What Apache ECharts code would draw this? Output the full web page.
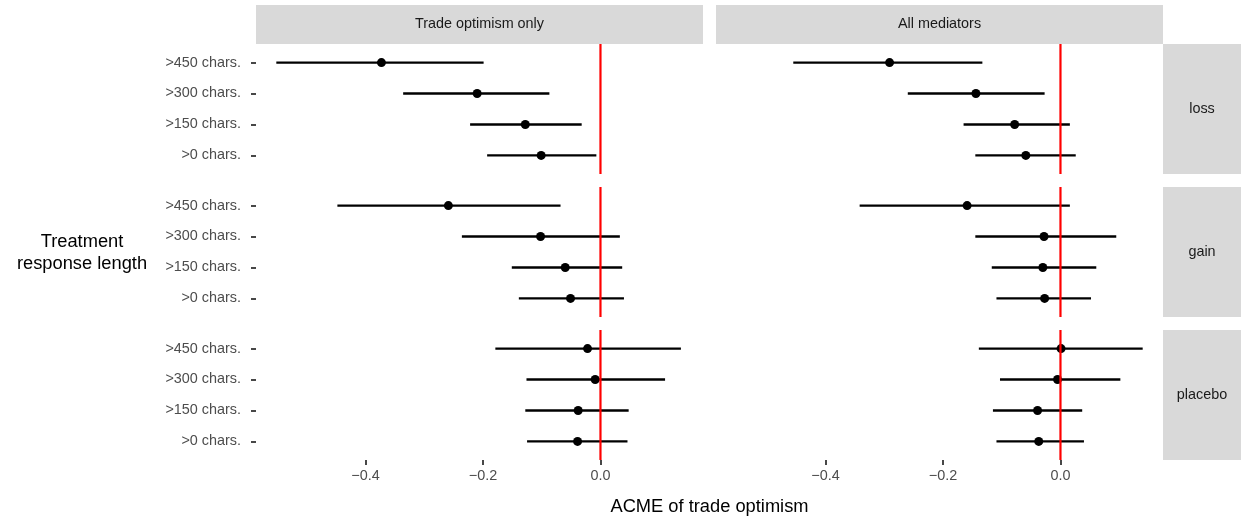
<!DOCTYPE html>
<html>
<head>
<meta charset="utf-8">
<title>ACME of trade optimism</title>
<script src="https://cdn.jsdelivr.net/npm/echarts@6/dist/echarts.min.js"></script>
<style>
  html, body { margin: 0; padding: 0; background: #fff; }
  #chart { width: 1241px; height: 519px; }
</style>
</head>
<body>
<div id="chart"></div>
<script>
// Response-length subsets, bottom to top
const lengthCats = ['>0 chars.', '>150 chars.', '>300 chars.', '>450 chars.'];
const modelNames = ['Trade optimism only', 'All mediators'];
const treatmentNames = ['loss', 'gain', 'placebo'];
const xTicks = [-0.4, -0.2, 0.0];
const zeroLine = [0];

// Trade optimism only
const optLossEst = [-0.101, -0.128, -0.210, -0.373];
const optLossLo  = [-0.193, -0.222, -0.336, -0.552];
const optLossHi  = [-0.007, -0.032, -0.087, -0.199];

const optGainEst = [-0.051, -0.060, -0.102, -0.259];
const optGainLo  = [-0.139, -0.151, -0.236, -0.448];
const optGainHi  = [0.040, 0.037, 0.033, -0.068];

const optPlaceboEst = [-0.039, -0.038, -0.009, -0.022];
const optPlaceboLo  = [-0.125, -0.128, -0.126, -0.179];
const optPlaceboHi  = [0.046, 0.048, 0.110, 0.137];

// All mediators
const allLossEst = [-0.059, -0.078, -0.144, -0.291];
const allLossLo  = [-0.145, -0.165, -0.260, -0.455];
const allLossHi  = [0.026, 0.016, -0.027, -0.133];

const allGainEst = [-0.027, -0.030, -0.028, -0.159];
const allGainLo  = [-0.109, -0.117, -0.145, -0.342];
const allGainHi  = [0.052, 0.061, 0.095, 0.016];

const allPlaceboEst = [-0.037, -0.039, -0.005, 0.001];
const allPlaceboLo  = [-0.109, -0.115, -0.103, -0.139];
const allPlaceboHi  = [0.040, 0.037, 0.102, 0.140];

// panels[row][col]
const panels = [
  [{est: optLossEst, lo: optLossLo, hi: optLossHi}, {est: allLossEst, lo: allLossLo, hi: allLossHi}],
  [{est: optGainEst, lo: optGainLo, hi: optGainHi}, {est: allGainEst, lo: allGainLo, hi: allGainHi}],
  [{est: optPlaceboEst, lo: optPlaceboLo, hi: optPlaceboHi}, {est: allPlaceboEst, lo: allPlaceboLo, hi: allPlaceboHi}]
];

// shared x scale with 5% padding on both sides of the data range
const allLo = [].concat(...panels.map(r => r.map(p => p.lo))).flat();
const allHi = [].concat(...panels.map(r => r.map(p => p.hi))).flat();
const dMin = Math.min(...allLo), dMax = Math.max(...allHi);
const pad = (dMax - dMin) * 0.05;
const xMin = dMin - pad, xMax = dMax + pad;
// discrete y scale: 0.6 units of padding around positions 1..4
const yMin = 0.4, yMax = lengthCats.length + 0.6;
const yPos = lengthCats.map((_, i) => i + 1);

// layout
const FONT = '"Liberation Sans", Arial, Helvetica, sans-serif';
const colLeft = [256, 716];
const rowTop = [44, 187, 330];
const panelW = 447, panelH = 130;
const stripTop = 5, stripH = 39;
const rowStripLeft = 1163, rowStripW = 78;

const fmtTick = v => (v < 0 ? '\u2212' : '') + Math.abs(v).toFixed(1);

const grid = [], xAxis = [], yAxis = [], series = [], graphic = [];

panels.forEach((row, r) => {
  row.forEach((p, c) => {
    const gi = grid.length;
    grid.push({left: colLeft[c], top: rowTop[r], width: panelW, height: panelH});
    const bottomRow = r === panels.length - 1;
    const leftCol = c === 0;
    xAxis.push({
      gridIndex: gi, type: 'value', min: xMin, max: xMax, position: 'bottom',
      axisLine: {show: false, onZero: false}, splitLine: {show: false},
      axisTick: {show: bottomRow, customValues: xTicks, length: 5, lineStyle: {color: '#333', width: 1.8}},
      axisLabel: {show: bottomRow, customValues: xTicks, formatter: fmtTick, color: '#4d4d4d',
                  fontSize: 14.4, fontFamily: FONT, margin: 9}
    });
    yAxis.push({
      gridIndex: gi, type: 'value', min: yMin, max: yMax, position: 'left',
      axisLine: {show: false, onZero: false}, splitLine: {show: false},
      axisTick: {show: leftCol, customValues: yPos, length: 5, lineStyle: {color: '#333', width: 1.8}},
      axisLabel: {show: leftCol, customValues: yPos, formatter: v => lengthCats[Math.round(v) - 1],
                  color: '#4d4d4d', fontSize: 14.4, fontFamily: FONT, margin: 15}
    });
    // confidence intervals
    series.push({
      type: 'custom', xAxisIndex: gi, yAxisIndex: gi, z: 2, silent: true,
      data: p.lo.map((lo, i) => [lo, p.hi[i], yPos[i]]),
      encode: {x: [0, 1], y: 2},
      renderItem: (params, api) => {
        const a = api.coord([api.value(0), api.value(2)]);
        const b = api.coord([api.value(1), api.value(2)]);
        return {type: 'line', shape: {x1: a[0], y1: a[1], x2: b[0], y2: b[1]},
                style: {stroke: '#000', lineWidth: 2.3}};
      }
    });
    // point estimates
    series.push({
      type: 'scatter', xAxisIndex: gi, yAxisIndex: gi, z: 3, silent: true,
      symbol: 'circle', symbolSize: 9, itemStyle: {color: '#000', opacity: 1},
      data: p.est.map((e, i) => [e, yPos[i]])
    });
    // reference line at zero
    series.push({
      type: 'custom', xAxisIndex: gi, yAxisIndex: gi, z: 4, silent: true,
      data: zeroLine.map(v => [v, yMin, yMax]),
      encode: {x: 0, y: [1, 2]},
      renderItem: (params, api) => {
        const a = api.coord([api.value(0), api.value(1)]);
        const b = api.coord([api.value(0), api.value(2)]);
        return {type: 'line', shape: {x1: a[0], y1: a[1], x2: b[0], y2: b[1]},
                style: {stroke: '#ff0000', lineWidth: 2.2}};
      }
    });
  });
});

// facet strips
modelNames.forEach((name, c) => {
  graphic.push({type: 'rect', shape: {x: colLeft[c], y: stripTop, width: panelW, height: stripH},
                style: {fill: '#d9d9d9'}, silent: true});
  graphic.push({type: 'text', x: colLeft[c] + panelW / 2, y: stripTop + stripH / 2, silent: true,
                style: {text: name, fill: '#1a1a1a', fontSize: 14.4, fontFamily: FONT,
                        align: 'center', verticalAlign: 'middle'}});
});
treatmentNames.forEach((name, r) => {
  graphic.push({type: 'rect', shape: {x: rowStripLeft, y: rowTop[r], width: rowStripW, height: panelH},
                style: {fill: '#d9d9d9'}, silent: true});
  graphic.push({type: 'text', x: rowStripLeft + rowStripW / 2, y: rowTop[r] + panelH / 2, silent: true,
                style: {text: name, fill: '#1a1a1a', fontSize: 14.4, fontFamily: FONT,
                        align: 'center', verticalAlign: 'middle'}});
});

// axis titles
graphic.push({type: 'text', x: 82, y: 253, silent: true,
              style: {text: 'Treatment\nresponse length', fill: '#000', fontSize: 18.3, fontFamily: FONT,
                      align: 'center', verticalAlign: 'middle', lineHeight: 22}});
graphic.push({type: 'text', x: (colLeft[0] + colLeft[1] + panelW) / 2, y: 507, silent: true,
              style: {text: 'ACME of trade optimism', fill: '#000', fontSize: 18.3, fontFamily: FONT,
                      align: 'center', verticalAlign: 'middle'}});

const chart = echarts.init(document.getElementById('chart'), null, {renderer: 'canvas'});
chart.setOption({
  animation: false,
  backgroundColor: '#ffffff',
  grid, xAxis, yAxis, series, graphic
});
</script>
</body>
</html>
